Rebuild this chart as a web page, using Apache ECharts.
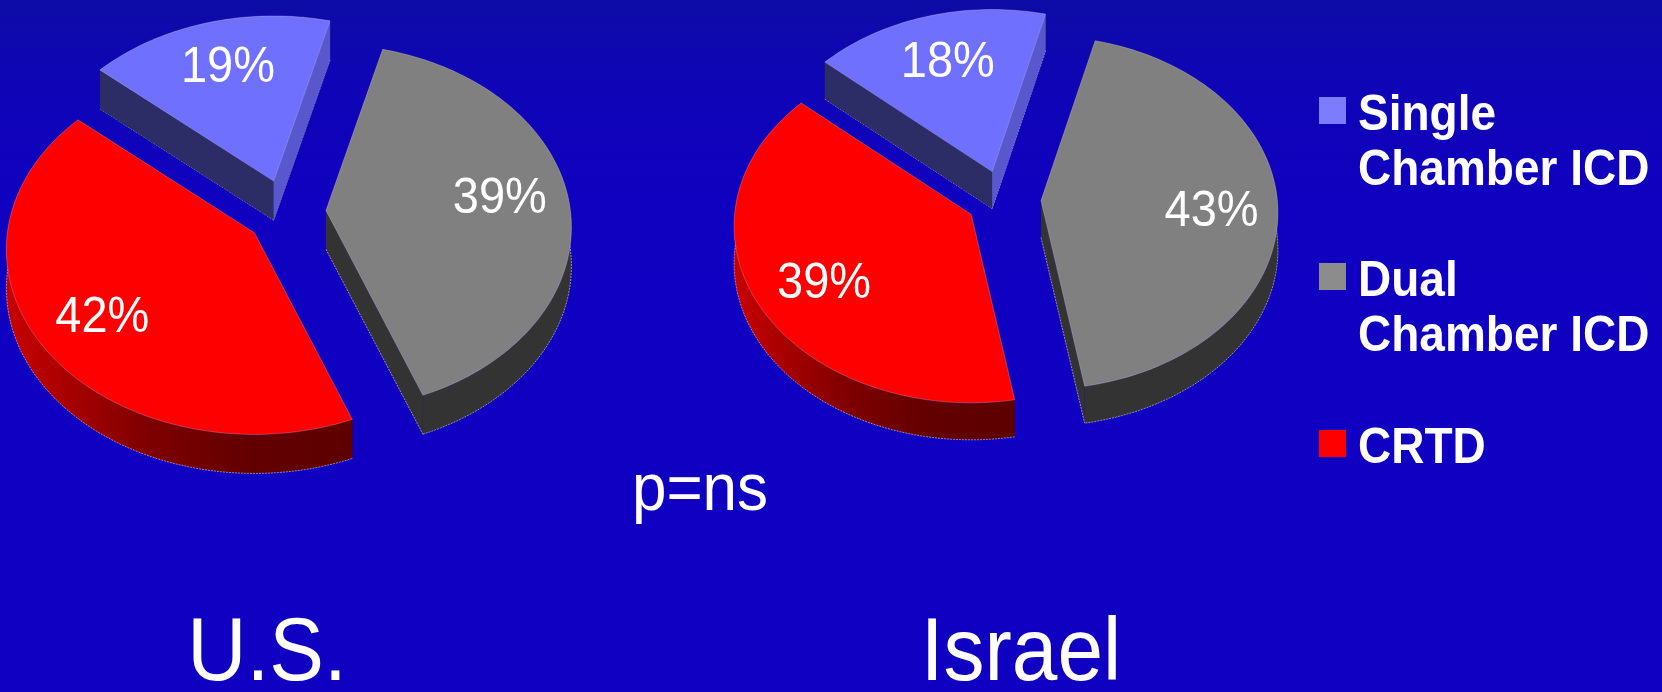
<!DOCTYPE html>
<html>
<head>
<meta charset="utf-8">
<style>html,body{margin:0;padding:0;background:#1000c0}#chart{width:1662px;height:692px}</style>
<script src="https://cdn.jsdelivr.net/npm/echarts@6/dist/echarts.min.js"></script>
</head>
<body>
<div id="chart"></div>
<script>
// Device type shares per country, in percent.
const categories = ['Single\nChamber ICD', 'Dual\nChamber ICD', 'CRTD'];
const usShares = [19, 39, 42];
const israelShares = [18, 43, 39];
const pValueText = 'p=ns';

const FONT = '"Liberation Sans", Arial, sans-serif';
const STRETCH = 1.08; // text in this slide is slightly taller than wide

const sliceStyles = [
  { top: '#7070ff', rim: '#2c2c66', startWall: '#2c2c66', endWall: '#5858cc', legend: '#7c7cff', edges: [true, true] },
  { top: '#808080', rim: '#333333', startWall: '#333333', endWall: '#333333', legend: '#8c8c8c', edges: [false, true] },
  { top: '#ff0000', rim: new echarts.graphic.LinearGradient(0, 0, 1, 0, [
      { offset: 0, color: '#c80000' }, { offset: 0.4, color: '#800000' },
      { offset: 0.7, color: '#620000' }, { offset: 1, color: '#5e0000' }]),
    startWall: '#600000', endWall: '#600000', legend: '#ff0000', edges: [false, false] }
];

// Projection of each tilted pie: s flattens the radial directions; the rim is an ellipse
// offset below the slice apex (perspective brings the near edge closer).
const usPie = { name: 'U.S.', shares: usShares, cx: 286, cy: 212.5, explode: 40, s: 0.825,
  firstBoundary: 16.2, rx: 248, ry: 184.7, rimDrop: 17, depth: 39,
  labelShift: [-0.5, -1, 3.5], labelFrac: [0.71, 0.72, 0.73], rimScale: [0.985, 0.99, 1] };
const israelPie = { name: 'Israel', shares: israelShares, cx: 1003.5, cy: 199.5, explode: 37.5, s: 0.78,
  firstBoundary: 14.8, rx: 237, ry: 176.6, rimDrop: 12, depth: 37,
  labelShift: [0, 2.5, -1], labelFrac: [0.70, 0.72, 0.71], rimScale: [0.985, 1, 1] };

const rad = d => d * Math.PI / 180;

function direction(pie, deg) {
  return [Math.sin(rad(deg)), -pie.s * Math.cos(rad(deg))];
}

// Point where the ray at the given pie angle leaves the rim ellipse, relative to the apex.
function rimOffset(pie, deg, scale) {
  const [dx, dy] = direction(pie, deg);
  const a = dx * dx / (pie.rx * pie.rx) + dy * dy / (pie.ry * pie.ry);
  const b = -2 * dy * pie.rimDrop / (pie.ry * pie.ry);
  const c = pie.rimDrop * pie.rimDrop / (pie.ry * pie.ry) - 1;
  const t = scale * (-b + Math.sqrt(b * b - 4 * a * c)) / (2 * a);
  return [t * dx, t * dy];
}

function arcPoints(pie, apex, from, to, scale) {
  const pts = [];
  const steps = Math.max(12, Math.ceil(Math.abs(to - from) / 1.5));
  for (let i = 0; i <= steps; i++) {
    const o = rimOffset(pie, from + (to - from) * i / steps, scale);
    pts.push([apex[0] + o[0], apex[1] + o[1]]);
  }
  return pts;
}

const drop = (pts, h) => pts.map(p => [p[0], p[1] + h]);
const band = (upper, h) => upper.concat(drop(upper, h).reverse());

function pieRenderer(pie) {
  const total = pie.shares.reduce((a, b) => a + b, 0);
  return function (params, api) {
    const i = params.dataIndex;
    const before = pie.shares.slice(0, i).reduce((a, b) => a + b, 0);
    const value = api.value(0);
    // Shares run clockwise; the first boundary sits after the opening slice.
    const origin = pie.firstBoundary - pie.shares[0] / total * 360;
    const from = origin + before / total * 360;
    const to = from + value / total * 360;
    const mid = (from + to) / 2;
    const d = direction(pie, mid);
    const apex = [pie.cx + pie.explode * d[0], pie.cy + pie.explode * d[1]];
    const arc = arcPoints(pie, apex, from, to, pie.rimScale[i]);
    const st = sliceStyles[i];
    const first = arc[0], last = arc[arc.length - 1];
    const edgeLine = 'rgba(235,225,225,0.55)';
    const wallEdge = pts => ({ type: 'polyline', shape: { points: drop(pts, pie.depth) }, silent: true,
      style: { fill: null, stroke: edgeLine, lineWidth: 1, lineDash: [2, 1] } });
    const labelOff = rimOffset(pie, mid + pie.labelShift[i], pie.rimScale[i]);
    const children = [
      { type: 'polygon', shape: { points: band([apex, first], pie.depth) }, style: { fill: st.startWall } },
      { type: 'polygon', shape: { points: band([apex, last], pie.depth) }, style: { fill: st.endWall } },
      { type: 'polygon', shape: { points: band(arc, pie.depth) }, style: { fill: st.rim } },
      wallEdge(arc)
    ];
    if (st.edges[0]) children.push(wallEdge([apex, first]));
    if (st.edges[1]) children.push(wallEdge([apex, last]));
    // The opening slice shows both radial walls, so they go above its outer wall.
    if (i === 0) {
      children.push({ type: 'polygon', shape: { points: band([apex, first], pie.depth) }, style: { fill: st.startWall } });
      children.push({ type: 'polygon', shape: { points: band([apex, last], pie.depth) }, style: { fill: st.endWall } });
    }
    children.push(
      { type: 'polygon', shape: { points: [apex].concat(arc) },
        style: { fill: st.top, stroke: 'rgba(255,255,255,0.22)', lineWidth: 1 } },
      { type: 'text', x: apex[0] + pie.labelFrac[i] * labelOff[0], y: apex[1] + pie.labelFrac[i] * labelOff[1], scaleY: STRETCH,
        style: { text: value + '%', x: 0, y: 0, align: 'center', verticalAlign: 'middle',
          fill: '#ffffff', font: '47px ' + FONT } }
    );
    return { type: 'group', children: children };
  };
}

function pieSeries(pie) {
  return { type: 'custom', name: pie.name, coordinateSystem: 'none', silent: true, animation: false,
    data: pie.shares.map(v => [v]), renderItem: pieRenderer(pie) };
}

function plainText(text, x, y, size) {
  return { type: 'text', x: x, y: y, scaleY: STRETCH, silent: true,
    style: { text: text, x: 0, y: 0, align: 'center', verticalAlign: 'middle', fill: '#ffffff',
      font: size + 'px ' + FONT } };
}

const legendTop = [97, 263, 430];
const legendItems = categories.flatMap((name, i) => [
  { type: 'rect', silent: true, shape: { x: 1319, y: legendTop[i], width: 27, height: 27 },
    style: { fill: sliceStyles[i].legend } },
  { type: 'text', silent: true, x: 1358, y: legendTop[i] - 8, scaleY: STRETCH,
    style: { text: name, x: 0, y: 0, align: 'left', verticalAlign: 'top', fill: '#ffffff',
      font: 'bold 46px ' + FONT, lineHeight: 51 } }
]);

const chart = echarts.init(document.getElementById('chart'), null, { renderer: 'canvas' });
chart.setOption({
  animation: false,
  backgroundColor: new echarts.graphic.LinearGradient(0, 0, 0, 1, [
    { offset: 0, color: '#0d0ca6' }, { offset: 0.12, color: '#0f05b6' }, { offset: 0.3, color: '#1000c0' },
    { offset: 1, color: '#1000c2' }]),
  series: [pieSeries(usPie), pieSeries(israelPie)],
  graphic: { elements: legendItems.concat([
    plainText(pValueText, 700, 492, 62),
    plainText(usPie.name, 267, 656, 82),
    plainText(israelPie.name, 1021, 656, 82)
  ]) }
});
</script>
</body>
</html>
